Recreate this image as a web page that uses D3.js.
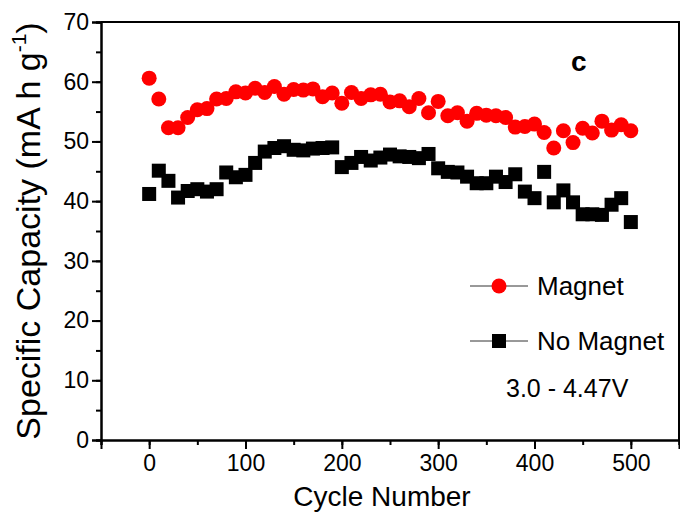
<!DOCTYPE html>
<html>
<head>
<meta charset="utf-8">
<script src="https://cdn.jsdelivr.net/npm/d3@7"></script>
<style>
  body { margin: 0; background: #fff; }
  text { font-family: "Liberation Sans", Arial, sans-serif; }
</style>
</head>
<body>
<div id="wrapper"></div>
<script>
// data, one point every 10 cycles
const cycles = d3.range(0, 501, 10)
const magnet = [60.6, 57.1, 52.3, 52.3, 54.0, 55.3, 55.5, 57.1, 57.2, 58.3,
  58.1, 58.9, 58.2, 59.2, 57.9, 58.7, 58.6, 58.8, 57.5, 58.1,
  56.4, 58.2, 57.2, 57.8, 57.9, 56.6, 56.8, 55.8, 57.2, 54.8,
  56.7, 54.3, 54.8, 53.4, 54.7, 54.4, 54.3, 54.0, 52.4, 52.5,
  52.9, 51.5, 48.9, 51.8, 49.8, 52.2, 51.4, 53.4, 51.9, 52.8, 51.8]
const noMagnet = [41.2, 45.1, 43.4, 40.6, 41.7, 42.0, 41.6, 42.0, 44.8, 44.0,
  44.4, 46.4, 48.3, 48.9, 49.2, 48.6, 48.5, 48.8, 48.9, 49.0,
  45.7, 46.4, 47.4, 46.8, 47.3, 47.8, 47.5, 47.4, 47.2, 47.9,
  45.5, 44.9, 44.8, 44.1, 43.0, 43.0, 44.1, 43.2, 44.5, 41.6,
  40.5, 44.9, 39.8, 41.8, 39.8, 37.8, 37.8, 37.7, 39.4, 40.5, 36.5]
const xTicks = [0, 100, 200, 300, 400, 500]
const yTicks = [0, 10, 20, 30, 40, 50, 60, 70]

const dimensions = {
  width: 680,
  height: 513,
  margin: { top: 22, right: 1, bottom: 73, left: 101 },
}
dimensions.boundedWidth = dimensions.width - dimensions.margin.left - dimensions.margin.right
dimensions.boundedHeight = dimensions.height - dimensions.margin.top - dimensions.margin.bottom

const wrapper = d3.select("#wrapper")
  .append("svg")
    .attr("width", dimensions.width)
    .attr("height", dimensions.height)

const bounds = wrapper.append("g")
  .attr("transform", `translate(${dimensions.margin.left},${dimensions.margin.top})`)

const xScale = d3.scaleLinear()
  .domain([-50, 550])
  .range([0, dimensions.boundedWidth])

const yScale = d3.scaleLinear()
  .domain([0, 70])
  .range([dimensions.boundedHeight, 0])

// minor ticks first, then major ones with labels
const xMinor = bounds.append("g")
  .attr("transform", `translate(0,${dimensions.boundedHeight})`)
  .call(d3.axisBottom(xScale).tickValues(d3.range(-50, 551, 50)).tickSize(5).tickFormat(""))
const xAxis = bounds.append("g")
  .attr("transform", `translate(0,${dimensions.boundedHeight})`)
  .call(d3.axisBottom(xScale).tickValues(xTicks).tickSize(9).tickPadding(6))

const yMinor = bounds.append("g")
  .call(d3.axisLeft(yScale).tickValues(d3.range(0, 71, 5)).tickSize(5).tickFormat(""))
const yAxis = bounds.append("g")
  .call(d3.axisLeft(yScale).tickValues(yTicks).tickSize(9).tickPadding(3))

bounds.selectAll(".domain").attr("stroke-width", 2).attr("stroke", "#000")
bounds.selectAll(".tick line").attr("stroke-width", 2).attr("stroke", "#000")
xAxis.selectAll(".tick text").style("font-size", "23px").attr("fill", "#000")
yAxis.selectAll(".tick text").style("font-size", "23px").attr("fill", "#000")

// frame on top and right
bounds.append("path")
  .attr("d", `M0,0H${dimensions.boundedWidth}V${dimensions.boundedHeight}`)
  .attr("fill", "none")
  .attr("stroke", "#000")
  .attr("stroke-width", 2)

// series
const magnetData = cycles.map((c, i) => ({ x: c, y: magnet[i] }))
const noMagnetData = cycles.map((c, i) => ({ x: c, y: noMagnet[i] }))

bounds.selectAll("rect.sq")
  .data(noMagnetData)
  .enter().append("rect")
    .attr("class", "sq")
    .attr("x", d => xScale(d.x) - 7)
    .attr("y", d => yScale(d.y) - 7)
    .attr("width", 14)
    .attr("height", 14)
    .attr("fill", "#000")

bounds.selectAll("circle.dot")
  .data(magnetData)
  .enter().append("circle")
    .attr("class", "dot")
    .attr("cx", d => xScale(d.x))
    .attr("cy", d => yScale(d.y))
    .attr("r", 7.5)
    .attr("fill", "#ff0000")

// legend
const legend = wrapper.append("g")
const legendItems = [
  { label: "Magnet", y: 286, shape: "circle" },
  { label: "No Magnet", y: 341, shape: "square" },
]
legendItems.forEach(item => {
  legend.append("line")
    .attr("x1", 470).attr("x2", 528)
    .attr("y1", item.y).attr("y2", item.y)
    .attr("stroke", "#333").attr("stroke-width", 1)
  if (item.shape === "circle") {
    legend.append("circle")
      .attr("cx", 499).attr("cy", item.y).attr("r", 7.5)
      .attr("fill", "#ff0000")
  } else {
    legend.append("rect")
      .attr("x", 492).attr("y", item.y - 7).attr("width", 14).attr("height", 14)
      .attr("fill", "#000")
  }
  legend.append("text")
    .attr("x", 537).attr("y", item.y + 9)
    .style("font-size", "26px")
    .text(item.label)
})
legend.append("text")
  .attr("x", 506).attr("y", 397)
  .style("font-size", "25px")
  .text("3.0 - 4.47V")

wrapper.append("text")
  .attr("x", 571).attr("y", 71)
  .style("font-size", "28px")
  .style("font-weight", "bold")
  .text("c")

// axis titles
wrapper.append("text")
  .attr("x", 382)
  .attr("y", 506)
  .style("text-anchor", "middle")
  .style("font-size", "28px")
  .text("Cycle Number")

const yTitle = wrapper.append("text")
  .attr("transform", `translate(40,231) rotate(-90)`)
  .style("text-anchor", "middle")
  .style("font-size", "34px")
yTitle.append("tspan").text("Specific Capacity (mA h g")
yTitle.append("tspan").attr("dy", -14).style("font-size", "21px").text("-1")
yTitle.append("tspan").attr("dy", 14).text(")")
</script>
</body>
</html>
